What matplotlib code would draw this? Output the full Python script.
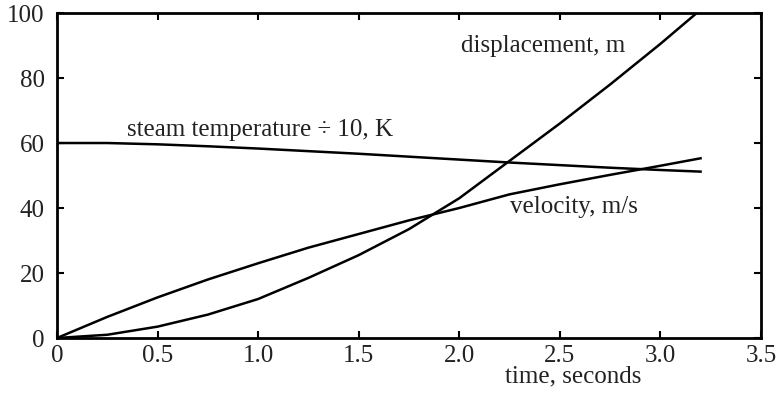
import numpy as np
import matplotlib
matplotlib.use('Agg')
import matplotlib.pyplot as plt

# values
t = [0, 0.25, 0.5, 0.75, 1.0, 1.25, 1.5, 1.75, 2.0, 2.25, 2.5, 2.75, 3.0, 3.2]
displacement = [0, 1, 3.5, 7.2, 12, 18.5, 25.5, 33.5, 43, 54.5, 66, 78, 90.5, 101]
velocity = [0, 6.5, 12.5, 18, 23, 27.8, 32, 36.2, 40, 44.2, 47.3, 50.2, 53, 55.3]
steam_temp = [60, 60, 59.6, 59.0, 58.3, 57.5, 56.7, 55.8, 54.9, 54.0, 53.2, 52.4, 51.7, 51.2]

xticks = [0, 0.5, 1.0, 1.5, 2.0, 2.5, 3.0, 3.5]
xtick_labels = ['0', '0.5', '1.0', '1.5', '2.0', '2.5', '3.0', '3.5']
yticks = [0, 20, 40, 60, 80, 100]

plt.rcParams['font.family'] = ['Liberation Serif', 'DejaVu Serif']
plt.rcParams['font.size'] = 18

fig = plt.figure(figsize=(7.78, 3.95), dpi=100)
ax = fig.add_axes([0.0733, 0.1443, 0.9047, 0.8227])

ax.plot(t, displacement, color='black', lw=1.8)
ax.plot(t, velocity, color='black', lw=1.8)
ax.plot(t, steam_temp, color='black', lw=1.8)

ax.text(2.01, 90, 'displacement, m', va='center', ha='left', color='#222222')
ax.text(0.35, 64, 'steam temperature \u00f7 10, K', va='center', ha='left', color='#222222')
ax.text(2.25, 40.3, 'velocity, m/s', va='center', ha='left', color='#222222')

ax.set_xlim(0, 3.5)
ax.set_ylim(0, 100)
ax.set_xticks(xticks)
ax.set_xticklabels(xtick_labels)
ax.set_yticks(yticks)

ax.set_xlabel('time, seconds', color='#222222')
ax.xaxis.set_label_coords(0.733, -0.085)

for s in ax.spines.values():
    s.set_linewidth(2)
ax.tick_params(direction='in', top=True, right=True, length=5, width=1.5,
               labelcolor='#222222')
ax.tick_params(axis='x', pad=5)
ax.tick_params(axis='y', pad=9)

fig.savefig('out.png', dpi=100)
